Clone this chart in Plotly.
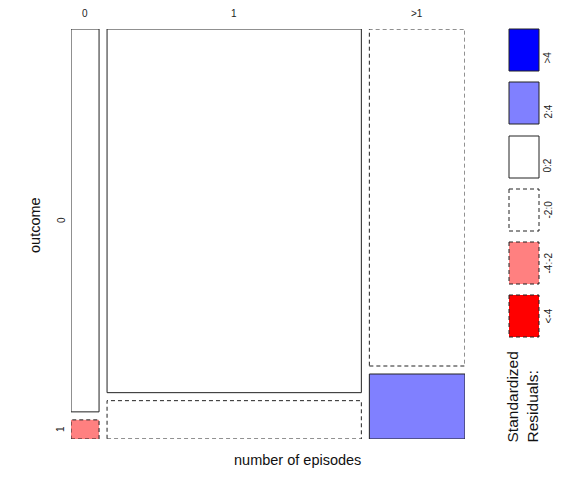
import numpy as np
import plotly.graph_objects as go

# Data (counts read from the mosaic proportions)
episodes = ["0", "1", ">1"]
outcomes = ["0", "1"]
count_outcome0 = [140, 1205, 420]
count_outcome1 = [7, 127, 81]

legend_labels = [">4", "2:4", "0:2", "-2:0", "-4:-2", "<-4"]
legend_fills = ["#0000FF", "#8080FF", "#FFFFFF", "#FFFFFF", "#FF8080", "#FF0000"]
legend_dash = ["solid", "solid", "solid", "dash", "dash", "dash"]

W, H = 568, 485
FONT = "Liberation Sans, Arial, sans-serif"
EDGE = "#222222"

counts = np.array([count_outcome0, count_outcome1], dtype=float)  # rows: outcome
N = counts.sum()
col_tot = counts.sum(axis=0)
row_tot = counts.sum(axis=1)
expected = np.outer(row_tot, col_tot) / N
resid = (counts - expected) / np.sqrt(expected)


def shade(r):
    if r > 4:
        return legend_fills[0], "solid"
    if r > 2:
        return legend_fills[1], "solid"
    if r >= 0:
        return legend_fills[2], "solid"
    if r > -2:
        return legend_fills[3], "dash"
    if r > -4:
        return legend_fills[4], "dash"
    return legend_fills[5], "dash"


DASH = "4px,3px"

# pixel layout of the mosaic area
px_l, px_r, px_t, px_b = 71, 465, 29, 439
gap_px = 8
gx = gap_px / (px_r - px_l - 2 * gap_px)
gy = gap_px / (px_b - px_t - gap_px)
xr = [0, 1 + 2 * gx]
yr = [0, 1 + gy]

fig = go.Figure()
x0 = 0.0
for j, ep in enumerate(episodes):
    w = col_tot[j] / N
    p1 = counts[1, j] / col_tot[j]
    cells = [(1, 0.0, p1), (0, p1 + gy, 1 + gy)]
    for i, ya, yb in cells:
        fill, dash = shade(resid[i, j])
        fig.add_trace(go.Scatter(
            x=[x0, x0 + w, x0 + w, x0, x0],
            y=[ya, ya, yb, yb, ya],
            mode="lines", fill="toself", fillcolor=fill,
            line=dict(color=EDGE, width=1, dash=DASH if dash == "dash" else "solid"),
            hoverinfo="text",
            text=f"episodes={ep}, outcome={outcomes[i]}: {int(counts[i, j])}",
            showlegend=False))
    fig.add_annotation(x=x0 + w / 2, y=1 - 13 / H, xref="x", yref="paper",
                       yanchor="middle", xanchor="center",
                       text=ep, showarrow=False,
                       font=dict(size=10, color="#222222", family=FONT))
    x0 += w + gx

# row labels (based on first column)
p1_first = counts[1, 0] / col_tot[0]
fig.add_annotation(x=(px_l - 17) / W, y=(p1_first + gy + 1 + gy) / 2, xref="paper", yref="y",
                   text="0", textangle=-90, showarrow=False,
                   font=dict(size=10, color="#222222", family=FONT))
fig.add_annotation(x=(px_l - 18) / W, y=p1_first / 2, xref="paper", yref="y",
                   text="1", textangle=-90, showarrow=False,
                   font=dict(size=10, color="#222222", family=FONT))

fig.add_annotation(x=25 / W, y=1 - 225 / H, xref="paper", yref="paper",
                   text="outcome", textangle=-90, showarrow=False,
                   font=dict(size=14.5, color="#111111", family=FONT))
fig.add_annotation(x=297 / W, y=1 - 470 / H, xref="paper", yref="paper",
                   text="number of episodes", showarrow=False,
                   font=dict(size=14.5, color="#111111", family=FONT))

# legend
lx0, lx1 = 509, 539
tops = [29, 82, 136, 189, 242, 295]
bh = 42
for lab, fill, dash, t in zip(legend_labels, legend_fills, legend_dash, tops):
    fig.add_shape(type="rect", xref="paper", yref="paper",
                  x0=lx0 / W, x1=lx1 / W, y0=1 - t / H, y1=1 - (t + bh) / H,
                  fillcolor=fill,
                  line=dict(color=EDGE, width=1, dash=DASH if dash == "dash" else "solid"))
    fig.add_annotation(x=555 / W, y=1 - (t + bh / 2) / H, xref="paper", yref="paper",
                       text=lab, textangle=-90, showarrow=False,
                       font=dict(size=10, color="#222222", family=FONT))
fig.add_annotation(x=522 / W, y=1 - 445 / H, xref="paper", yref="paper",
                   xanchor="center", yanchor="bottom",
                   text="Standardized<br>Residuals:", textangle=-90, align="left",
                   showarrow=False,
                   font=dict(size=15.5, color="#111111", family=FONT))

fig.update_layout(
    width=W, height=H, margin=dict(l=0, r=0, t=0, b=0),
    paper_bgcolor="white", plot_bgcolor="white",
    xaxis=dict(domain=[px_l / W, px_r / W], range=xr, visible=False, fixedrange=True),
    yaxis=dict(domain=[1 - px_b / H, 1 - px_t / H], range=yr, visible=False, fixedrange=True),
    showlegend=False,
)
fig.write_html("out.html", config={"displayModeBar": False},
               post_script="document.body.style.margin='0';document.body.style.overflow='hidden';")
